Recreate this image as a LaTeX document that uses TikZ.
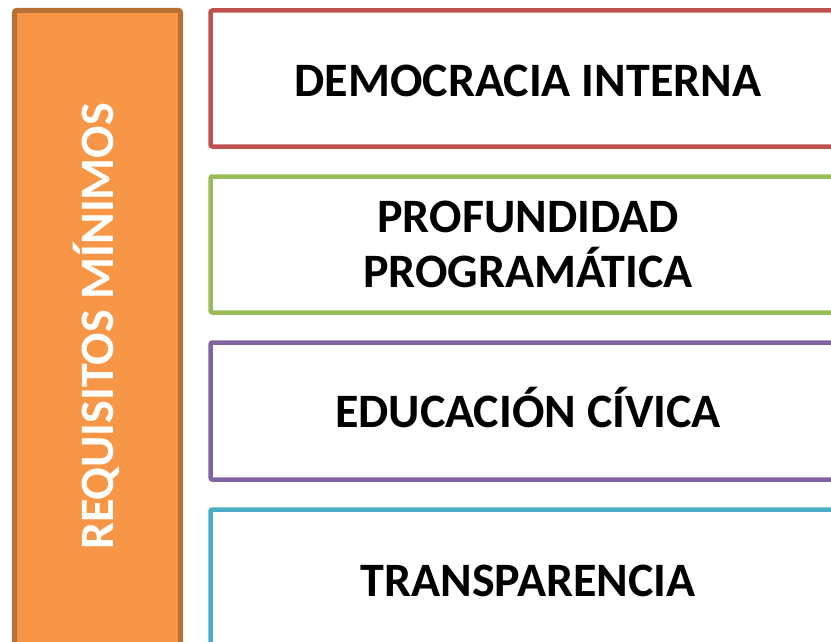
\documentclass[tikz,border=0pt]{standalone}
\usepackage{fontspec}
\setmainfont{Carlito}
\definecolor{orfill}{HTML}{F79646}
\definecolor{ordraw}{HTML}{B97034}
\definecolor{cred}{HTML}{C0504D}
\definecolor{cgreen}{HTML}{9BBB59}
\definecolor{cpurple}{HTML}{8064A2}
\definecolor{ccyan}{HTML}{4BACC6}
\tikzset{
  itembox/.style={draw=#1, line width=4.5pt, fill=white, rounded corners=2pt},
  itemtext/.style={anchor=base, inner sep=0pt, font=\fontsize{48}{55}\bfseries\selectfont},
  sidetext/.style={anchor=base, inner sep=0pt, rotate=90, text=white, font=\fontsize{48}{55}\bfseries\selectfont}
}
\begin{document}
\begin{tikzpicture}[x=1pt,y=-1pt]
\useasboundingbox (0,0) rectangle (831,642);
\clip (0,0) rectangle (831,642);
% side box
\draw[fill=orfill, draw=ordraw, line width=5pt, rounded corners=2pt] (14.5,10.5) rectangle (180.5,700);
\node[sidetext] (side) at (113,326.5) {REQUISITOS MÍNIMOS};
% item boxes
\draw[itembox=cred] (210.5,10.5) rectangle (846,146.5);
\draw[itembox=cgreen] (210.5,176.5) rectangle (846,312.5);
\draw[itembox=cpurple] (210.5,342.5) rectangle (846,479.5);
\draw[itembox=ccyan] (210.5,509.5) rectangle (846,700);
% texts
\node[itemtext] (t1) at (528,97) {DEMOCRACIA INTERNA};
\node[itemtext] (t2a) at (528,232) {PROFUNDIDAD};
\node[itemtext] (t2b) at (528,287) {PROGRAMÁTICA};
\node[itemtext] (t3) at (528,427) {EDUCACIÓN CÍVICA};
\node[itemtext] (t4) at (528,596) {TRANSPARENCIA};
\end{tikzpicture}
\end{document}
